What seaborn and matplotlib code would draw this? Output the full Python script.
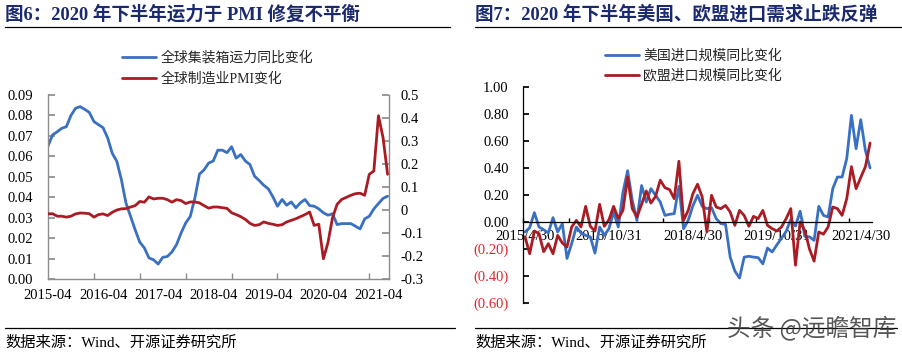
import numpy as np
import pandas as pd
import matplotlib
matplotlib.use("Agg")
import matplotlib.pyplot as plt
import seaborn as sns
from matplotlib.lines import Line2D

# 数据
left_xlabels = ["2015-04", "2016-04", "2017-04", "2018-04", "2019-04", "2020-04", "2021-04"]
right_xlabels = ["2015/4/30", "2016/10/31", "2018/4/30", "2019/10/31", "2021/4/30"]

# 全球集装箱运力同比变化 (左轴)
capacity_yoy = [
    0.065, 0.0705, 0.072, 0.0737, 0.0745, 0.080, 0.0835, 0.0843, 0.083, 0.0815,
    0.077, 0.0755, 0.074, 0.069, 0.0615, 0.0575, 0.0485, 0.037, 0.0306, 0.024,
    0.018, 0.0152, 0.0103, 0.0094, 0.0073, 0.0106, 0.011, 0.0132, 0.0168, 0.0225,
    0.0274, 0.0306, 0.0396, 0.0513, 0.0534, 0.0567, 0.0577, 0.063, 0.063, 0.0618,
    0.0647, 0.0591, 0.0609, 0.0577, 0.056, 0.0503, 0.0482, 0.0459, 0.0441, 0.0402,
    0.0356, 0.0389, 0.0361, 0.0377, 0.0348, 0.0373, 0.0389, 0.0359, 0.0356, 0.0343,
    0.0324, 0.0312, 0.0319, 0.0266, 0.0271, 0.0271, 0.0271, 0.0258, 0.0245, 0.0294,
    0.0307, 0.0343, 0.0369, 0.0394, 0.0405,
]
# 全球制造业PMI变化 (右轴)
pmi_change = [
    -0.017, -0.016, -0.027, -0.027, -0.031, -0.027, -0.017, -0.013, -0.014, -0.016,
    -0.031, -0.020, -0.017, -0.024, -0.010, 0.0, 0.005, 0.006, 0.013, 0.019,
    0.037, 0.034, 0.057, 0.048, 0.051, 0.051, 0.045, 0.034, 0.045, 0.041,
    0.028, 0.035, 0.035, 0.031, 0.019, 0.008, 0.013, 0.013, 0.010, 0.007,
    -0.012, -0.020, -0.029, -0.041, -0.058, -0.067, -0.064, -0.052, -0.058, -0.062,
    -0.067, -0.064, -0.052, -0.045, -0.038, -0.029, -0.020, -0.009, -0.067, -0.062,
    -0.212, -0.142, -0.033, 0.025, 0.046, 0.055, 0.064, 0.071, 0.073, 0.064,
    0.155, 0.17, 0.41, 0.315, 0.155,
]
# 美国进口规模同比变化
us_import = [
    -0.074, -0.042, 0.069, -0.037, -0.057, -0.081, 0.032, -0.074, -0.012, -0.27,
    -0.16, -0.037, -0.081, -0.099, -0.11, -0.23, -0.037, -0.099, -0.049, 0.074,
    -0.037, 0.22, 0.38, 0.16, 0.012, 0.27, 0.148, 0.247, 0.198, 0.148,
    0.049, 0.057, 0.062, 0.264, -0.049, 0.012, 0.12, 0.198, 0.116, 0.099,
    0.106, 0.025, -0.012, -0.017, -0.26, -0.363, -0.415, -0.26, -0.254, -0.26,
    -0.264, -0.31, -0.193, -0.222, -0.17, -0.12, -0.07, 0.02, -0.03, 0.08,
    -0.106, -0.11, -0.136, 0.116, 0.049, 0.037, 0.247, 0.333, 0.333, 0.47,
    0.79, 0.543, 0.758, 0.53, 0.40,
]
# 欧盟进口规模同比变化
eu_import = [
    -0.11, -0.235, -0.067, -0.086, -0.22, -0.16, -0.235, -0.099, -0.156, -0.185,
    -0.037, 0.012, -0.037, 0.116, -0.032, -0.067, 0.131, -0.032, 0.017, 0.116,
    0.025, 0.086, 0.333, 0.099, 0.037, 0.131, 0.23, 0.14, 0.19, 0.31,
    0.254, 0.24, 0.173, 0.45, 0.012, 0.086, 0.21, 0.28, 0.185, -0.074,
    0.198, 0.111, 0.099, 0.123, 0.074, -0.025, 0.086, 0.049, -0.032, 0.042,
    0.025, 0.086, -0.025, -0.049, -0.067, -0.037, 0.025, 0.099, -0.32, 0.0,
    -0.062, -0.2, -0.29, -0.074, -0.09, -0.037, 0.111, 0.099, 0.049, 0.173,
    0.41, 0.247, 0.33, 0.41, 0.585,
]

BLUE = "#3A70C2"
RED = "#A91C24"
NAVY = "#1B2A6E"
GREY = "#8C8C8C"
NEG_RED = "#E0262B"

sns.set_theme(style="white")
plt.rcParams["font.family"] = ["Liberation Serif", "Noto Sans CJK SC"]
plt.rcParams["axes.unicode_minus"] = False

W, H = 902, 354
fig = plt.figure(figsize=(W / 100, H / 100), dpi=100)

# ---------------- 图6 ----------------
df1 = pd.DataFrame({"idx": np.arange(len(capacity_yoy)),
                    "capacity": capacity_yoy, "pmi": pmi_change})

ax1 = fig.add_axes([48 / W, 1 - 279 / H, (389 - 48) / W, (279 - 95) / H])
sns.lineplot(data=df1, x="idx", y="capacity", ax=ax1, color=BLUE, linewidth=2.0)
ax1r = ax1.twinx()
sns.lineplot(data=df1, x="idx", y="pmi", ax=ax1r, color=RED, linewidth=2.0)

ax1.set_xlim(0, 74.3)
ax1.set_ylim(0, 0.09)
ax1r.set_ylim(-0.3, 0.5)
lticks = np.round(np.arange(0, 0.0901, 0.01), 2)
ax1.set_yticks(lticks)
ax1.set_yticklabels([f"{v:.2f}" for v in lticks])
rticks = np.round(np.arange(-0.3, 0.501, 0.1), 1)
ax1r.set_yticks(rticks)
ax1r.set_yticklabels(["0" if v == 0 else f"{v:.1f}" for v in rticks])
ax1.set_xticks(np.arange(0, 73, 12))
ax1.set_xticklabels(left_xlabels)
ax1.set_xticks(np.arange(0, 75, 10), minor=True)
for a in (ax1, ax1r):
    a.set_xlabel("")
    a.set_ylabel("")
    a.grid(False)
    for s in a.spines.values():
        s.set_color(GREY)
        s.set_linewidth(1.0)
    a.spines["top"].set_visible(False)
ax1.spines["right"].set_visible(False)
ax1r.spines["left"].set_visible(False)
ax1r.spines["bottom"].set_visible(False)
ax1.tick_params(axis="x", which="major", length=0, pad=7, labelsize=10.5, labelcolor="black")
ax1.tick_params(axis="x", which="minor", direction="in", length=4, color=GREY, bottom=True)
ax1.tick_params(axis="y", direction="in", length=5, color=GREY, pad=11, labelsize=10.5,
                labelcolor="black", left=True)
ax1r.tick_params(axis="y", direction="in", length=5, color=GREY, pad=8, labelsize=10.5,
                 labelcolor="black", right=True)

fig.legend([Line2D([], [], color=BLUE, lw=2.0), Line2D([], [], color=RED, lw=2.0)],
           ["全球集装箱运力同比变化", "全球制造业PMI变化"],
           loc="center left", bbox_to_anchor=(122 / W, 1 - 68.5 / H), frameon=False,
           fontsize=10, handlelength=2.45, handletextpad=0.3, labelspacing=0.55,
           borderpad=0, borderaxespad=0)

# ---------------- 图7 ----------------
df2 = pd.DataFrame({"idx": np.arange(len(us_import)) + 0.5,
                    "us": us_import, "eu": eu_import})

ax2 = fig.add_axes([522.7 / W, 1 - 303 / H, 349.7 / W, 216 / H])
sns.lineplot(data=df2, x="idx", y="us", ax=ax2, color=BLUE, linewidth=2.0)
sns.lineplot(data=df2, x="idx", y="eu", ax=ax2, color=RED, linewidth=2.0)
ax2.set_xlabel("")
ax2.set_ylabel("")
ax2.grid(False)
ax2.set_xlim(0, 75)
ax2.set_ylim(-0.6, 1.0)
yt = np.round(np.arange(-0.6, 1.001, 0.2), 1)
ax2.set_yticks(yt)
ax2.set_yticklabels([f"({abs(v):.2f})" if v < 0 else f"{v:.2f}" for v in yt])
for lab, v in zip(ax2.get_yticklabels(), yt):
    lab.set_color(NEG_RED if v < 0 else "black")
ax2.set_xticks(np.arange(0, 73, 18) + 0.5)
ax2.set_xticklabels(right_xlabels)
ax2.set_xticks(np.arange(0, 75, 10), minor=True)
ax2.spines["top"].set_visible(False)
ax2.spines["right"].set_visible(False)
ax2.spines["bottom"].set_position(("data", 0))
for s in ("left", "bottom"):
    ax2.spines[s].set_color("black")
    ax2.spines[s].set_linewidth(0.9)
ax2.tick_params(axis="x", which="major", length=0, pad=6, labelsize=10.5, labelcolor="black")
ax2.tick_params(axis="x", which="minor", direction="in", length=3, color="black", bottom=True)
ax2.tick_params(axis="y", direction="in", length=4, color="black", pad=10, labelsize=10.5,
                left=True)

fig.legend([Line2D([], [], color=BLUE, lw=2.0), Line2D([], [], color=RED, lw=2.0)],
           ["美国进口规模同比变化", "欧盟进口规模同比变化"],
           loc="center left", bbox_to_anchor=(605 / W, 1 - 66 / H), frameon=False,
           fontsize=10, handlelength=2.45, handletextpad=0.3, labelspacing=0.45,
           borderpad=0, borderaxespad=0)

# ---------------- 标题 / 来源 ----------------
fig.text(5 / W, 1 - 14.5 / H, "图6：2020 年下半年运力于 PMI 修复不平衡",
         ha="left", va="center", fontsize=13.3, fontweight="bold", color=NAVY)
fig.text(475 / W, 1 - 14.5 / H, "图7：2020 年下半年美国、欧盟进口需求止跌反弹",
         ha="left", va="center", fontsize=13.3, fontweight="bold", color=NAVY)
for x0, x1 in ((5, 450), (475, 902)):
    fig.add_artist(Line2D([x0 / W, x1 / W], [1 - 27 / H] * 2, color="black", lw=0.9))
for x0, x1 in ((5, 455), (475, 897)):
    fig.add_artist(Line2D([x0 / W, x1 / W], [1 - 328 / H] * 2, color="black", lw=0.9))
for x0 in (5, 475):
    fig.text(x0 / W, 1 - 343 / H, "数据来源：Wind、开源证券研究所",
             ha="left", va="center", fontsize=11, color="black")
fig.text(812 / W, 1 - 328 / H, "头条 @远瞻智库", ha="center", va="center",
         fontsize=17, color="#3a3a3a", alpha=0.85, family=["Noto Sans CJK SC"])

fig.savefig("out.png", dpi=100)
